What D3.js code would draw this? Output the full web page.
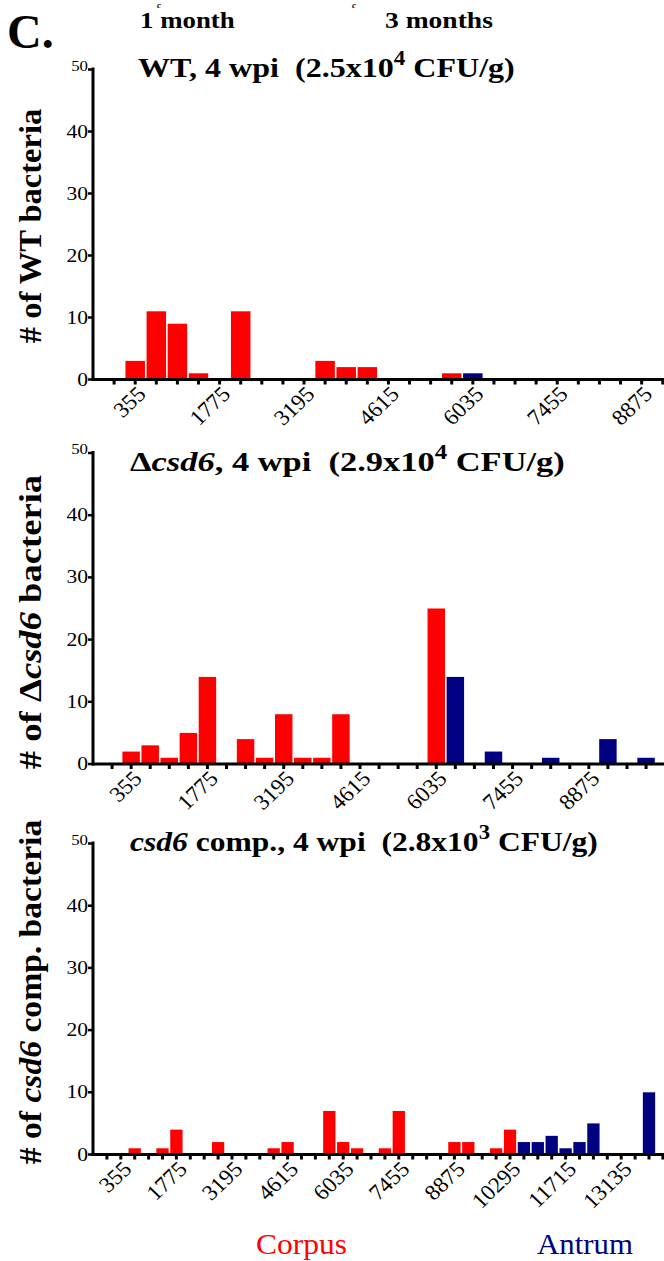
<!DOCTYPE html>
<html><head><meta charset="utf-8">
<script src="https://cdn.jsdelivr.net/npm/d3@7"></script>
<style>
body{margin:0;background:#fff}
svg{display:block;background:#fff}
</style>
</head><body>
<svg id="chart" width="664" height="1261"></svg>
<script>
// ---------------- DATA ----------------
const binWidth = 355;
const yTickValues = [0, 10, 20, 30, 40, 50];
const xTickLabelValues = [355, 1775, 3195, 4615, 6035, 7455, 8875, 10295, 11715, 13135];

// Panel 1: WT
const wtCorpusBins   = [355, 710, 1065, 1420, 2130, 3550, 3905, 4260, 5680];
const wtCorpusCounts = [3, 11, 9, 1, 11, 3, 2, 2, 1];
const wtAntrumBins   = [6035];
const wtAntrumCounts = [1];

// Panel 2: delta csd6
const dCorpusBins   = [355, 710, 1065, 1420, 1775, 2485, 2840, 3195, 3550, 3905, 4260, 6035];
const dCorpusCounts = [2, 3, 1, 5, 14, 4, 1, 8, 1, 1, 8, 25];
const dAntrumBins   = [6390, 7100, 8165, 9230, 9940];
const dAntrumCounts = [14, 2, 1, 4, 1];

// Panel 3: csd6 complemented
const cCorpusBins   = [710, 1420, 1775, 2840, 4260, 4615, 5680, 6035, 6390, 7100, 7455, 8875, 9230, 9940, 10295];
const cCorpusCounts = [1, 1, 4, 2, 1, 2, 7, 2, 1, 1, 7, 2, 2, 1, 4];
const cAntrumBins   = [10650, 11005, 11360, 11715, 12070, 12425, 13845];
const cAntrumCounts = [2, 2, 3, 1, 2, 5, 10];

// Texts
const panelTitles = [
  [{t:"WT, 4 wpi  (2.5x10"}, {t:"4", sup:true}, {t:" CFU/g)"}],
  [{t:"\u0394"}, {t:"csd6", i:true}, {t:", 4 wpi  (2.9x10"}, {t:"4", sup:true}, {t:" CFU/g)"}],
  [{t:"csd6", i:true}, {t:" comp., 4 wpi  (2.8x10"}, {t:"3", sup:true}, {t:" CFU/g)"}]
];
const yTitles = [
  [{t:"# of WT bacteria"}],
  [{t:"# of \u0394"}, {t:"csd6", i:true}, {t:" bacteria"}],
  [{t:"# of "}, {t:"csd6", i:true}, {t:" comp. bacteria"}]
];
const headerLabels = ["1 month", "3 months"];
const legendLabels = ["Corpus", "Antrum"];
const colorCorpus = "#ff0000";
const colorAntrum = "#000080";

// ---------------- LAYOUT ----------------
const FONT = "Liberation Serif";
const svg = d3.select("#chart");
const axisX = 93;
const rightEdge = 664;

const panels = [
  {corpus:[wtCorpusBins, wtCorpusCounts], antrum:[wtAntrumBins, wtAntrumCounts],
   xMax: 9251, y0: 379.5, y50: 69.5, maxLabel: 8875,
   titleX: 138, titleY: 77, titleW: 377, yTitleY: 226, yTitleL: 235},
  {corpus:[dCorpusBins, dCorpusCounts], antrum:[dAntrumBins, dAntrumCounts],
   xMax: 10274, y0: 764, y50: 453, maxLabel: 8875,
   titleX: 130, titleY: 471, titleW: 435, yTitleY: 622, yTitleL: 295},
  {corpus:[cCorpusBins, cCorpusCounts], antrum:[cAntrumBins, cAntrumCounts],
   xMax: 14228, y0: 1154.5, y50: 843.5, maxLabel: 13135,
   titleX: 130, titleY: 851, titleW: 468, yTitleY: 992, yTitleL: 345}
];

function T(parent) {
  return parent.append("text").attr("font-family", FONT).style("white-space", "pre");
}

function rich(sel, parts, size) {
  const shift = size * 0.42;
  let prevSup = false;
  parts.forEach(p => {
    const ts = sel.append("tspan").text(p.t);
    if (p.i) ts.attr("font-style", "italic");
    if (p.sup) { ts.attr("dy", -shift).attr("font-size", size * 0.72); prevSup = true; }
    else if (prevSup) { ts.attr("dy", shift); prevSup = false; }
  });
}

panels.forEach((P, pi) => {
  const g = svg.append("g");
  const x = d3.scaleLinear().domain([-binWidth, P.xMax]).range([axisX, rightEdge]);
  const y = d3.scaleLinear().domain([0, 50]).range([P.y0, P.y50]);
  const step = x(binWidth) - x(0);
  const bw = step - 1.6;

  // bars
  const bars = [];
  P.corpus[0].forEach((b, k) => bars.push({b, c: P.corpus[1][k], col: colorCorpus}));
  P.antrum[0].forEach((b, k) => bars.push({b, c: P.antrum[1][k], col: colorAntrum}));
  g.selectAll("rect.bar").data(bars).enter().append("rect")
    .attr("class", "bar")
    .attr("x", d => x(d.b) - bw / 2)
    .attr("width", bw)
    .attr("y", d => y(d.c))
    .attr("height", d => y(0) - y(d.c))
    .attr("fill", d => d.col);

  // x tick marks
  const tickVals = d3.range(0, P.xMax + 1, binWidth);
  g.selectAll("rect.xt").data(tickVals).enter().append("rect")
    .attr("x", d => x(d) - 1.5).attr("width", 3)
    .attr("y", y(0)).attr("height", 5).attr("fill", "#000");

  // x tick labels
  xTickLabelValues.filter(v => v <= P.maxLabel).forEach(v => {
    T(g).attr("transform", `translate(${x(v) + 12},${y(0) + 16}) scale(1.05,1) rotate(-45)`)
      .attr("text-anchor", "end")
      .attr("font-size", 22)
      .text(v);
  });

  // axes lines
  g.append("line").attr("x1", axisX).attr("x2", axisX)
    .attr("y1", y(0) + 1.5).attr("y2", y(50) - 2)
    .attr("stroke", "#000").attr("stroke-width", 3);
  g.append("line").attr("x1", axisX - 1.5).attr("x2", rightEdge)
    .attr("y1", y(0)).attr("y2", y(0))
    .attr("stroke", "#000").attr("stroke-width", 3);

  // y ticks + labels
  yTickValues.forEach(v => {
    g.append("line").attr("x1", axisX - 5).attr("x2", axisX)
      .attr("y1", y(v)).attr("y2", y(v)).attr("stroke", "#000").attr("stroke-width", 2.5);
    const small = v === 50;
    T(g).attr("transform", `translate(${axisX - 5},${y(v) + (small ? 1 : 6)}) scale(1.2,1)`)
      .attr("text-anchor", "end")
      .attr("font-size", small ? 14 : 18)
      .text(v);
  });

  // panel title
  const tt = T(g).attr("font-weight", "bold").attr("font-size", 28);
  rich(tt, panelTitles[pi], 28);
  const tw = tt.node().getBBox().width;
  tt.attr("transform", `translate(${P.titleX},${P.titleY}) scale(${P.titleW / tw},1)`);

  // y title
  const yt = T(g).attr("font-weight", "bold").attr("font-size", 31)
    .attr("text-anchor", "middle");
  rich(yt, yTitles[pi], 31);
  const yw = yt.node().getBBox().width;
  yt.attr("transform", `translate(41,${P.yTitleY}) rotate(-90) scale(${P.yTitleL / yw},1)`);
});

// "C." label
T(svg).attr("x", 7).attr("y", 48).attr("font-weight", "bold")
  .attr("font-size", 48).text("C.");

// partial italic glyphs at the very top
[157, 352].forEach(xx => {
  T(svg).attr("x", xx).attr("y", 8).attr("font-style", "italic")
    .attr("font-weight", "bold").attr("font-size", 9).text("c");
});

// headers
const headerPos = [[140, 28, 95], [385, 28, 108]];
headerLabels.forEach((h, k) => {
  const t = T(svg).attr("font-weight", "bold").attr("font-size", 23).text(h);
  const w = t.node().getBBox().width;
  t.attr("transform", `translate(${headerPos[k][0]},${headerPos[k][1]}) scale(${headerPos[k][2] / w},1)`);
});

// legend
const legendPos = [[256, 1254, 91, colorCorpus], [537, 1254, 96, colorAntrum]];
legendLabels.forEach((l, k) => {
  const t = T(svg).attr("font-size", 30).attr("fill", legendPos[k][3]).text(l);
  const w = t.node().getBBox().width;
  t.attr("transform", `translate(${legendPos[k][0]},${legendPos[k][1]}) scale(${legendPos[k][2] / w},1)`);
});
</script>
</body></html>
